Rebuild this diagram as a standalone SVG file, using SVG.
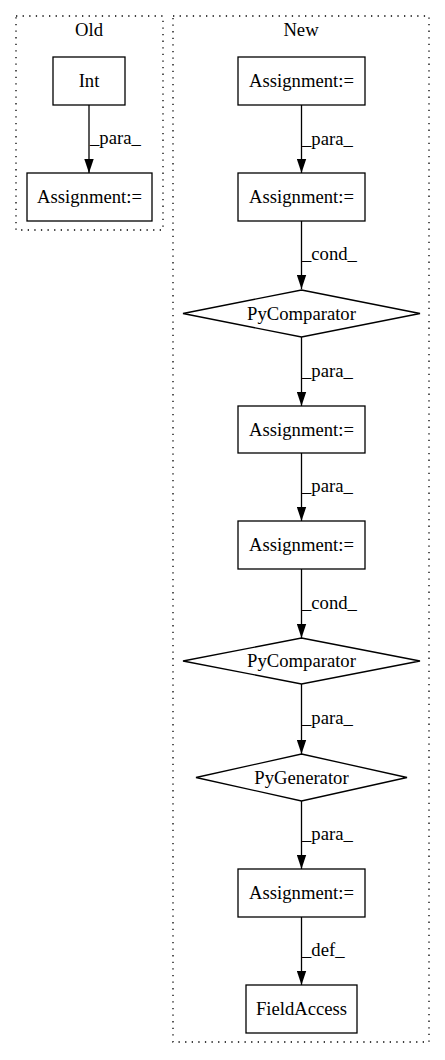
<svg xmlns="http://www.w3.org/2000/svg" width="445" height="1060" viewBox="0 0 445 1060" font-family="Liberation Serif" font-size="18.67">
<style>
.n{text-anchor:middle}
.node{fill:none;stroke:#000;stroke-width:1.3}
.cl{fill:none;stroke:#000;stroke-width:1.3;stroke-dasharray:1.3,5.3}
.e{stroke:#000;stroke-width:1.3;fill:none}
</style>
<defs>
<marker id="ah" markerUnits="userSpaceOnUse" markerWidth="14" markerHeight="10" refX="14" refY="5" orient="auto">
<path d="M0,0.3 L14,5 L0,9.7 Z" fill="#000"/>
</marker>
</defs>
<rect width="445" height="1060" fill="#fff"/>
<g id="cluster_old">
<rect class="cl" x="16" y="16" width="147" height="214"/>
<text class="n" x="89" y="36">Old</text>
</g>
<g id="cluster_new">
<rect class="cl" x="173" y="16" width="256" height="1026"/>
<text class="n" x="301" y="36">New</text>
</g>
<g id="connectors">
<path class="e" d="M89,105 L89,173" marker-end="url(#ah)"/>
<text x="90" y="144">_para_</text>
<path class="e" d="M301.5,105 L301.5,173" marker-end="url(#ah)"/>
<text x="302" y="145">_para_</text>
<path class="e" d="M301.5,221 L301.5,289" marker-end="url(#ah)"/>
<text x="302" y="260">_cond_</text>
<path class="e" d="M301.5,337 L301.5,406" marker-end="url(#ah)"/>
<text x="302" y="377">_para_</text>
<path class="e" d="M301.5,453 L301.5,521" marker-end="url(#ah)"/>
<text x="302" y="492">_para_</text>
<path class="e" d="M301.5,569 L301.5,638" marker-end="url(#ah)"/>
<text x="302" y="609">_cond_</text>
<path class="e" d="M301.5,684 L301.5,754" marker-end="url(#ah)"/>
<text x="302" y="724">_para_</text>
<path class="e" d="M301.5,801 L301.5,869" marker-end="url(#ah)"/>
<text x="302" y="840">_para_</text>
<path class="e" d="M301.5,917 L301.5,985" marker-end="url(#ah)"/>
<text x="302" y="956">_def_</text>
</g>
<g id="old_int">
<rect class="node" x="53" y="57" width="72" height="48"/>
<text class="n" x="89" y="87">Int</text>
</g>
<g id="old_assign">
<rect class="node" x="27" y="173" width="125" height="48"/>
<text class="n" x="89.5" y="203">Assignment:=</text>
</g>
<g id="new_assign1">
<rect class="node" x="238" y="57" width="127" height="48"/>
<text class="n" x="301.5" y="87">Assignment:=</text>
</g>
<g id="new_assign2">
<rect class="node" x="238" y="173" width="127" height="48"/>
<text class="n" x="301.5" y="203">Assignment:=</text>
</g>
<g id="new_cmp1">
<polygon class="node" points="301.5,290 420,313.5 301.5,337 183,313.5"/>
<text class="n" x="301.5" y="320">PyComparator</text>
</g>
<g id="new_assign3">
<rect class="node" x="238" y="406" width="127" height="47"/>
<text class="n" x="301.5" y="436">Assignment:=</text>
</g>
<g id="new_assign4">
<rect class="node" x="238" y="521" width="127" height="48"/>
<text class="n" x="301.5" y="551">Assignment:=</text>
</g>
<g id="new_cmp2">
<polygon class="node" points="301.5,638 420,661 301.5,684 183,661"/>
<text class="n" x="301.5" y="667">PyComparator</text>
</g>
<g id="new_gen">
<polygon class="node" points="301.5,754 407,777.5 301.5,801 196,777.5"/>
<text class="n" x="301.5" y="784">PyGenerator</text>
</g>
<g id="new_assign5">
<rect class="node" x="238" y="869" width="127" height="48"/>
<text class="n" x="301.5" y="899">Assignment:=</text>
</g>
<g id="new_field">
<rect class="node" x="246" y="985" width="111" height="48"/>
<text class="n" x="301.5" y="1015">FieldAccess</text>
</g>
</svg>
